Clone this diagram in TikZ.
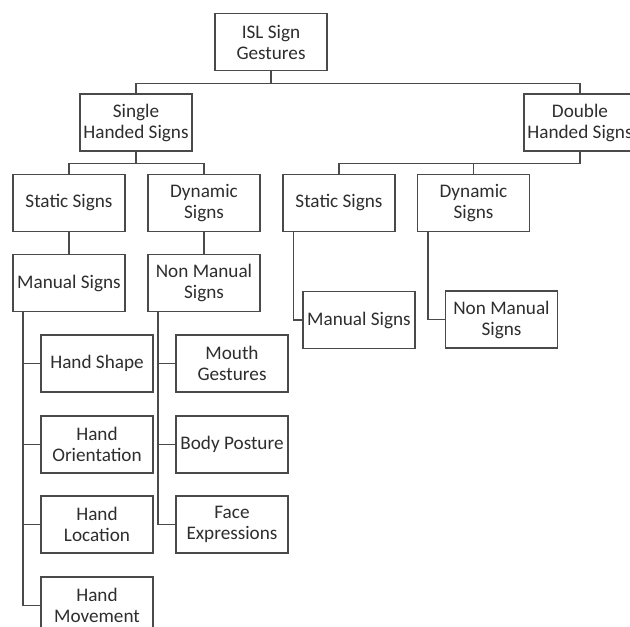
\documentclass[tikz,border=0pt]{standalone}
\usepackage{fontspec}
\setmainfont{Carlito}
\definecolor{linec}{HTML}{4A4A4A}
\definecolor{textc}{HTML}{2E2E2E}
\tikzset{
  box/.style={draw=linec, line width=1.3pt, rectangle, minimum width=112pt, minimum height=57pt,
    inner sep=0pt, align=center, text=textc, font=\fontsize{19.2}{21}\selectfont},
  conn/.style={draw=linec, line width=1.3pt}
}
\begin{document}
\begin{tikzpicture}[x=1pt,y=-1pt]
\clip (0,0) rectangle (630,627);
\fill[white] (0,0) rectangle (630,627);
\node[box] (isl) at (271,42) {ISL Sign\\Gestures};
\node[box] (single) at (136,122.5) {Single\\Handed Signs};
\node[box] (double) at (580,122.5) {Double\\Handed Signs};
\node[box] (staticL) at (69,203) {Static Signs};
\node[box] (dynL) at (204,203) {Dynamic\\Signs};
\node[box] (staticR) at (339,203) {Static Signs};
\node[box] (dynR) at (473.5,203) {Dynamic\\Signs};
\node[box] (manL) at (69,283) {Manual Signs};
\node[box] (nonL) at (204,283) {Non Manual\\Signs};
\node[box] (manR) at (359,320) {Manual Signs};
\node[box] (nonR) at (501.5,319.5) {Non Manual\\Signs};
\node[box] (shape) at (97,363.5) {Hand Shape};
\node[box] (orient) at (97,444.5) {Hand\\Orientation};
\node[box] (loc) at (97,524.5) {Hand\\Location};
\node[box] (move) at (97,605.5) {Hand\\Movement};
\node[box] (mouth) at (232,363.5) {Mouth\\Gestures};
\node[box] (body) at (232,444.5) {Body Posture};
\node[box] (face) at (232,524.5) {Face\\Expressions};
% connectors
\draw[conn] (isl.south) -- +(0,12) -| (single.north);
\draw[conn] (isl.south) -- +(0,12) -| (double.north);
\draw[conn] (single.south) -- +(0,12) -| (staticL.north);
\draw[conn] (single.south) -- +(0,12) -| (dynL.north);
\draw[conn] (double.south) -- +(0,12) -| (staticR.north);
\draw[conn] (double.south) -- +(0,12) -| (dynR.north);
\draw[conn] (staticL.south) -- (manL.north);
\draw[conn] (dynL.south) -- (nonL.north);
\draw[conn] ([xshift=11pt]staticR.south west) |- (manR.west);
\draw[conn] ([xshift=11pt]dynR.south west) |- (nonR.west);
\draw[conn] ([xshift=10.5pt]manL.south west) |- (move.west);
\draw[conn] ([xshift=10.5pt]manL.south west) |- (shape.west);
\draw[conn] ([xshift=10.5pt]manL.south west) |- (orient.west);
\draw[conn] ([xshift=10.5pt]manL.south west) |- (loc.west);
\draw[conn] ([xshift=10.5pt]nonL.south west) |- (face.west);
\draw[conn] ([xshift=10.5pt]nonL.south west) |- (mouth.west);
\draw[conn] ([xshift=10.5pt]nonL.south west) |- (body.west);
\end{tikzpicture}
\end{document}
